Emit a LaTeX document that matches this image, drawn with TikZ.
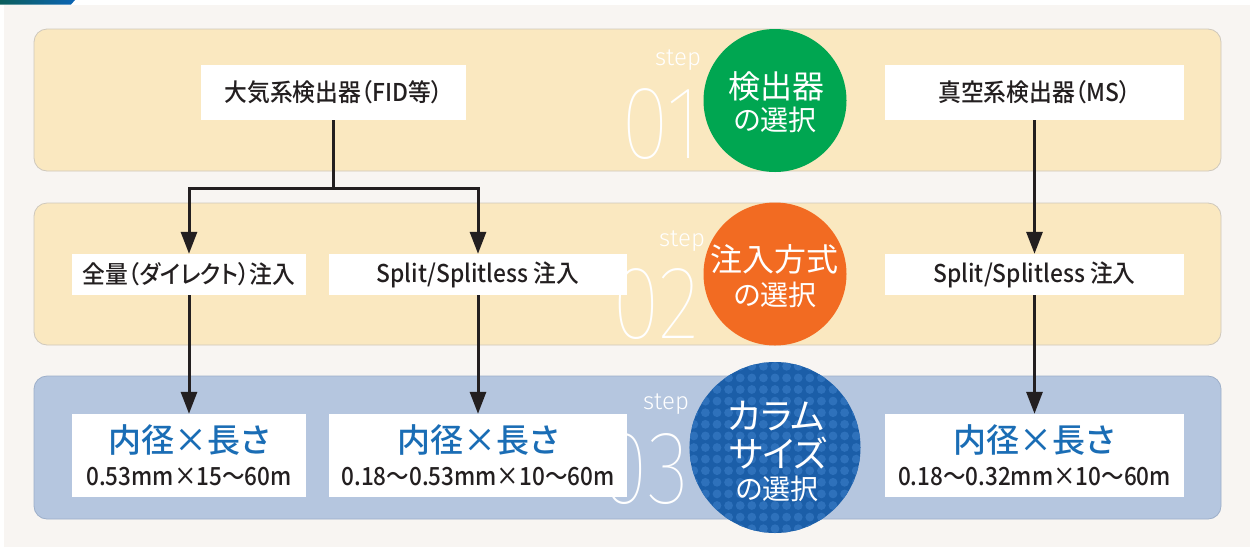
\documentclass[tikz,border=0pt]{standalone}
\usepackage{fontspec}
\usetikzlibrary{arrows.meta}
\setmainfont{Noto Sans CJK JP}[RawFeature=+palt]
\IfFontExistsTF{Noto Sans CJK JP Medium}
  {\newfontfamily\medjp{Noto Sans CJK JP Medium}[RawFeature=+palt]
   \newfontfamily\boxjp{Noto Sans CJK JP Medium}[RawFeature=+palt, FakeStretch=0.93]
   \newfontfamily\medjpn{Noto Sans CJK JP Medium}[RawFeature=+palt, FakeStretch=0.9]}
  {\newfontfamily\medjp{Noto Sans CJK JP}[RawFeature=+palt]
   \newfontfamily\boxjp{Noto Sans CJK JP}[RawFeature=+palt, FakeStretch=0.93]
   \newfontfamily\medjpn{Noto Sans CJK JP}[RawFeature=+palt, FakeStretch=0.9]}
\IfFontExistsTF{Fira Sans Thin}
  {\newfontfamily\thinnum{Fira Sans Thin}[FakeStretch=0.85]\newfontfamily\thinstep{Fira Sans Light}}
  {\newfontfamily\thinnum{Fira Sans}[FakeStretch=0.85]\newfontfamily\thinstep{Fira Sans}}
\definecolor{bg}{HTML}{F8F5F2}
\definecolor{cream}{HTML}{FAE8C0}
\definecolor{creamline}{HTML}{CFC8BC}
\definecolor{bandblue}{HTML}{B5C6DF}
\definecolor{bandblueline}{HTML}{9DAFC9}
\definecolor{ink}{HTML}{231F20}
\definecolor{greenc}{HTML}{00A651}
\definecolor{orangec}{HTML}{F26B22}
\definecolor{bluec}{HTML}{1B5EA8}
\definecolor{bluedot}{HTML}{2E71BB}
\definecolor{titleblue}{HTML}{1A6DB5}
\definecolor{barteal}{HTML}{0B5E5C}
\definecolor{barblue}{HTML}{0B64B4}
\begin{document}
\begin{tikzpicture}[x=1pt,y=-1pt,
  band/.style={draw=creamline, line width=0.8pt, fill=cream, rounded corners=13pt,
    minimum width=1187pt, minimum height=142pt, inner sep=0pt},
  bandb/.style={band, draw=bandblueline, fill=bandblue},
  box/.style={fill=white, inner sep=0pt, text=ink, font=\boxjp\fontsize{24.5}{28}\selectfont},
  disc/.style={circle, inner sep=0pt},
  conn/.style={line width=3pt, draw=ink},
  arr/.style={conn, -{Triangle[length=22pt,width=16pt]}},
  circtxt/.style={text=white, inner sep=0pt, font=\fontsize{32}{34}\selectfont},
  circsub/.style={text=white, inner sep=0pt, font=\fontsize{28}{30}\selectfont},
  steplbl/.style={text=white, inner sep=0pt, font=\thinstep\fontsize{24}{24}\selectfont},
  stepnum/.style={text=white, inner sep=0pt, font=\thinnum\fontsize{104}{104}\selectfont},
  coltitle/.style={text=titleblue, inner sep=0pt, font=\medjp\fontsize{33}{35}\selectfont},
  colsize/.style={text=ink, inner sep=0pt, font=\medjpn\fontsize{25}{27}\selectfont}
]
\useasboundingbox (0,0) rectangle (1250,547);
% background
\fill[bg] (4,5) rectangle (1250,547);
\shade[left color=barteal, right color=barblue] (0,0) -- (75,0) -- (71,4.5) -- (0,4.5) -- cycle;

% bands
\node[band] (band1) at (627.5,100) {};
\node[band] (band2) at (627.5,274) {};
\node[bandb, minimum height=143pt] (band3) at (627.5,447.5) {};

% step labels
\node[steplbl] (s1) at (678,60) {step};
\node[stepnum] (n1) at (661,124) {01};
\node[steplbl] (s2) at (682,241) {step};
\node[stepnum] (n2) at (656,304) {02};
\node[steplbl] (s3) at (666,404) {step};
\node[stepnum] (n3) at (645,469) {03};

% circles
\node[disc, fill=greenc, minimum size=143pt] (c1) at (775,100.5) {};
\node[circtxt] (c1a) at (776,86) {検出器};
\node[circsub] (c1b) at (775,120) {の選択};

\node[disc, fill=orangec, minimum size=143pt] (c2) at (775,274) {};
\node[circtxt] (c2a) at (774,259) {注入方式};
\node[circsub] (c2b) at (775,295) {の選択};

\node[disc, fill=bluec, minimum size=171pt] (c3) at (775,447.5) {};
\begin{scope}
  \clip (c3.center) circle[radius=85.5pt];
  \foreach \i in {-8,...,8}{
    \foreach \j in {-8,...,8}{
      \fill[bluedot] (775+\i*11.6, 447.5+\j*11.6) circle[radius=4.4pt];
    }
  }
\end{scope}
\node[circtxt, font=\fontsize{36}{38}\selectfont] (c3a) at (776,416) {カラム};
\node[circtxt, font=\fontsize{36}{38}\selectfont] (c3b) at (778,453) {サイズ};
\node[circsub] (c3c) at (777,489) {の選択};

% step 1 boxes
\node[box, minimum width=265pt, minimum height=55pt] (fid) at (333.5,92.5) {大気系検出器（FID等）};
\node[box, minimum width=299pt, minimum height=55pt] (ms) at (1034.5,92.5) {真空系検出器（MS）};

% step 2 boxes
\node[box, minimum width=234pt, minimum height=41pt] (direct) at (189,274.5) {全量（ダイレクト）注入};
\node[box, minimum width=298pt, minimum height=41pt] (split1) at (478,274.5) {Split/Splitless 注入};
\node[box, minimum width=299pt, minimum height=41pt] (split2) at (1034.5,274.5) {Split/Splitless 注入};

% step 3 boxes
\node[box, minimum width=234pt, minimum height=83pt] (col1) at (189,455.5) {};
\node[coltitle] (col1a) at (189,440) {内径×長さ};
\node[colsize] (col1b) at (189,477) {0.53mm×15～60m};
\node[box, minimum width=298pt, minimum height=83pt] (col2) at (478,455.5) {};
\node[coltitle] (col2a) at (478,440) {内径×長さ};
\node[colsize] (col2b) at (478,477) {0.18～0.53mm×10～60m};
\node[box, minimum width=299pt, minimum height=83pt] (col3) at (1034.5,455.5) {};
\node[coltitle] (col3a) at (1034.5,440) {内径×長さ};
\node[colsize] (col3b) at (1034.5,477) {0.18～0.32mm×10～60m};

% connectors
\coordinate (j) at (333.5,188);
\draw[conn] (fid.south) -- (j);
\draw[arr] (j) -| (direct.north);
\draw[arr] (j) -| (split1.north);
\draw[arr] (direct.south) -- (col1.north);
\draw[arr] (split1.south) -- (col2.north);
\draw[arr] (ms.south) -- (split2.north);
\draw[arr] (split2.south) -- (col3.north);
\end{tikzpicture}
\end{document}
